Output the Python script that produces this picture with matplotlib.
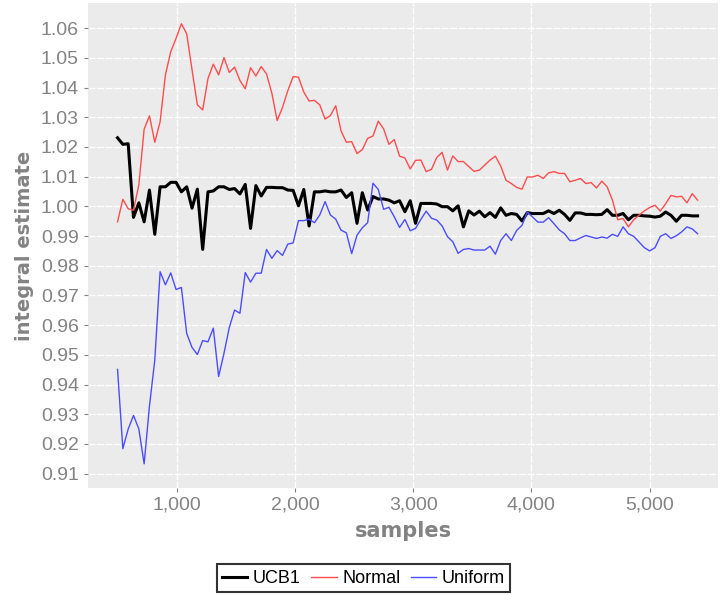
import numpy as np
import matplotlib
matplotlib.use("Agg")
import matplotlib.pyplot as plt

# sample counts: every 45 samples from 500 on
samples = np.arange(500, 5410, 45)

ucb1 = [1.0231, 1.0209, 1.0211, 0.9963, 1.0012, 0.9948, 1.0055, 0.9906, 1.0066, 1.0066,
        1.0081, 1.0081, 1.0049, 1.0066, 0.9994, 1.0058, 0.9855, 1.0049,
        1.0052, 1.0066, 1.0066, 1.0057, 1.0060, 1.0042, 1.0074, 0.9926, 1.0070, 1.0035,
        1.0064, 1.0064, 1.0063, 1.0063, 1.0055, 1.0054, 1.0002,
        1.0057, 0.9934, 1.0049, 1.0049, 1.0052, 1.0049, 1.0049, 1.0055, 1.0030, 1.0046,
        0.9943, 1.0046, 0.9988, 1.0033, 1.0025, 1.0025, 1.0021,
        1.0012, 1.0019, 0.9982, 1.0019, 0.9943, 1.0010, 1.0010, 1.0010, 1.0008, 0.9999,
        0.9999, 0.9985, 1.0002, 0.9931, 0.9985, 0.9971, 0.9984, 0.9965, 0.9979, 0.9963,
        0.9995, 0.9970, 0.9976, 0.9973, 0.9951, 0.9979, 0.9976, 0.9976, 0.9976, 0.9985,
        0.9976, 0.9987, 0.9973, 0.9953, 0.9978, 0.9978, 0.9973, 0.9973, 0.9972, 0.9973,
        0.9989, 0.9970, 0.9970, 0.9976, 0.9955, 0.9970, 0.9970, 0.9968, 0.9967, 0.9964,
        0.9967, 0.9981, 0.9970, 0.9950, 0.9970, 0.9970, 0.9968, 0.9968]

normal = [0.9948, 1.0024, 0.9992, 0.9987, 1.0072, 1.0260, 1.0305, 1.0216, 1.0285, 1.0443,
          1.0521, 1.0566, 1.0615, 1.0581, 1.0460, 1.0342, 1.0325, 1.0431,
          1.0479, 1.0443, 1.0501, 1.0451, 1.0469, 1.0424, 1.0396, 1.0467, 1.0439, 1.0471,
          1.0446, 1.0381, 1.0289, 1.0333, 1.0390, 1.0437, 1.0435,
          1.0385,
          1.0355, 1.0357, 1.0342, 1.0294, 1.0306, 1.0339, 1.0254, 1.0216, 1.0218, 1.0178,
          1.0191, 1.0229, 1.0237, 1.0287, 1.0261, 1.0209, 1.0225, 1.0169, 1.0163, 1.0126,
          1.0155, 1.0156, 1.0117, 1.0125, 1.0165, 1.0182, 1.0122, 1.0170, 1.0151, 1.0151,
          1.0134, 1.0118, 1.0122, 1.0139, 1.0156, 1.0169,
          1.0136, 1.0088, 1.0077, 1.0064, 1.0058, 1.0099, 1.0099, 1.0105, 1.0094, 1.0113,
          1.0117, 1.0111, 1.0111, 1.0083, 1.0088, 1.0094, 1.0077, 1.0080, 1.0062, 1.0085,
          1.0066, 1.0021, 0.9955, 0.9959, 0.9931, 0.9955, 0.9970, 0.9985, 0.9996, 1.0004,
          0.9984, 1.0009, 1.0037, 1.0032, 1.0034, 1.0012, 1.0043, 1.0021]

uniform = [0.9451, 0.9184, 0.9250, 0.9296, 0.9251, 0.9133, 0.9328, 0.9482, 0.9780, 0.9736,
           0.9776, 0.9720, 0.9727, 0.9572, 0.9525, 0.9501, 0.9548, 0.9544,
           0.9590, 0.9427, 0.9505, 0.9592, 0.9651, 0.9640, 0.9777, 0.9745, 0.9775, 0.9775,
           0.9855, 0.9825, 0.9851, 0.9835, 0.9873, 0.9877,
           0.9952, 0.9952, 0.9957, 0.9945, 0.9971, 1.0016, 0.9971, 0.9957, 0.9920, 0.9911,
           0.9841, 0.9903, 0.9928, 0.9945, 1.0078, 1.0057, 0.9990, 0.9997, 0.9965, 0.9929,
           0.9956, 0.9918, 0.9926, 0.9956, 0.9984, 0.9960, 0.9954, 0.9934, 0.9898, 0.9881,
           0.9842, 0.9855, 0.9858, 0.9853, 0.9853, 0.9853, 0.9866, 0.9839,
           0.9885, 0.9908, 0.9885, 0.9919, 0.9936, 0.9981, 0.9964, 0.9947, 0.9947, 0.9962,
           0.9942, 0.9921, 0.9908, 0.9885, 0.9885, 0.9894, 0.9902, 0.9897, 0.9892, 0.9897,
           0.9893, 0.9906, 0.9899, 0.9931, 0.9908, 0.9899, 0.9880, 0.9861, 0.9850, 0.9861,
           0.9899, 0.9908, 0.9892, 0.9901, 0.9914, 0.9931, 0.9924, 0.9908]

xticks = [1000, 2000, 3000, 4000, 5000]
yticks = np.round(np.arange(0.91, 1.0601, 0.01), 2)

grey = "#838383"
plt.rcParams["font.family"] = ["Liberation Sans", "DejaVu Sans"]

fig = plt.figure(figsize=(7.27, 5.95), dpi=100)
ax = fig.add_axes([0.121, 0.180, 0.867, 0.815])
ax.set_facecolor("#ebebeb")
for s in ax.spines.values():
    s.set_visible(False)

ax.set_xlim(250, 5580)
ax.set_ylim(0.9052, 1.0685)
ax.set_xticks(xticks)
ax.set_xticklabels([f"{t:,}" for t in xticks])
ax.set_yticks(yticks)
ax.set_yticklabels([f"{t:.2f}" for t in yticks])
ax.grid(True, color="white", lw=1.0, ls=(0, (5, 1.2)))
ax.set_axisbelow(True)
ax.tick_params(colors=grey, labelcolor=grey, labelsize=14, length=3, width=0.8)

ax.plot(samples, ucb1, color="black", lw=2.2, label="UCB1")
ax.plot(samples, normal, color="#ff4c4c", lw=1.0, label="Normal")
ax.plot(samples, uniform, color="#4c4cff", lw=1.0, label="Uniform")

ax.set_xlabel("samples", color=grey, fontsize=15, fontweight="bold",
              family="DejaVu Sans", labelpad=5)
ax.set_ylabel("integral estimate", color=grey, fontsize=14, fontweight="bold",
              family="DejaVu Sans", labelpad=5)

leg = fig.legend(loc="center", bbox_to_anchor=(0.5, 0.028), ncol=3, frameon=True,
                 fancybox=False, edgecolor="black", fontsize=13, handlelength=1.4,
                 handletextpad=0.3, columnspacing=0.6, borderpad=0.3)
leg.get_frame().set_linewidth(1.5)

fig.savefig("out.png", dpi=100)
